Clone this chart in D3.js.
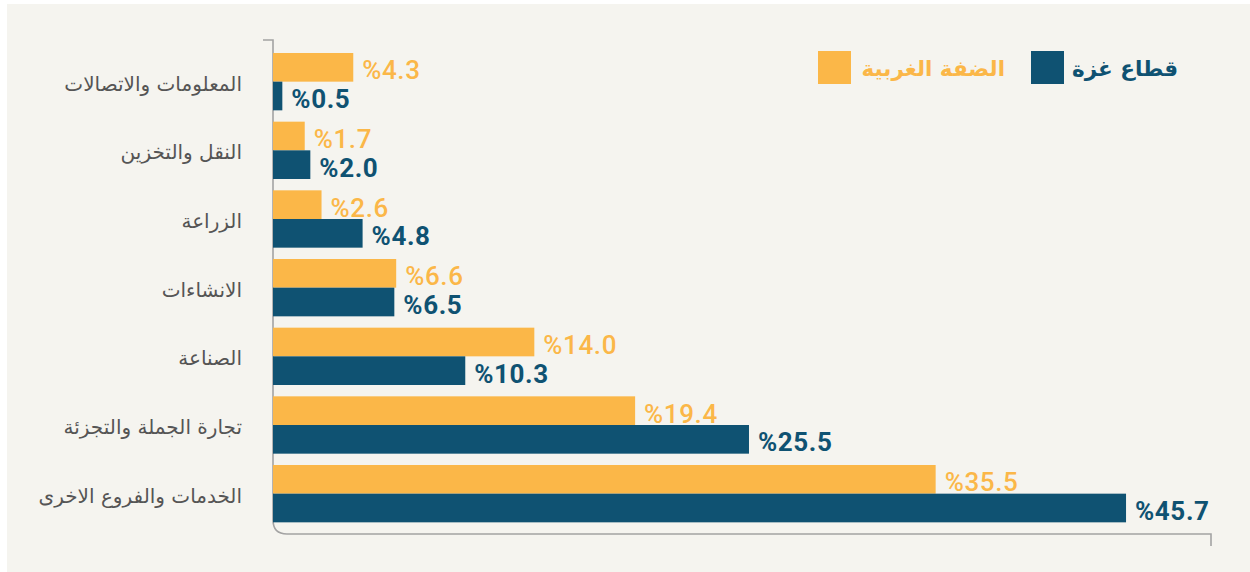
<!DOCTYPE html>
<html>
<head>
<meta charset="utf-8">
<script src="https://cdn.jsdelivr.net/npm/d3@7"></script>
<style>
  html, body { margin: 0; padding: 0; background: #ffffff; }
  svg { display: block; }
</style>
</head>
<body>
<svg id="chart" width="1250" height="572"></svg>
<script>
const categories = ["المعلومات والاتصالات", "النقل والتخزين", "الزراعة", "الانشاءات", "الصناعة", "تجارة الجملة والتجزئة", "الخدمات والفروع الاخرى"];
const westBank = [4.3, 1.7, 2.6, 6.6, 14.0, 19.4, 35.5];
const gaza = [0.5, 2.0, 4.8, 6.5, 10.3, 25.5, 45.7];
const seriesNames = ["الضفة الغربية", "قطاع غزة"];

const YELLOW = "#fbb748";
const BLUE = "#0f5272";
const AXIS = "#a3a3a3";

const svg = d3.select("#chart");
svg.append("rect").attr("x", 7).attr("y", 4).attr("width", 1243).attr("height", 568).attr("fill", "#f5f4ef");

const x = d3.scaleLinear().domain([0, 50]).range([273, 1206.3]);
const y0 = d3.scaleBand().domain(categories).range([47.33, 528.0]).paddingInner(0.165).paddingOuter(0.0825);
const y1 = d3.scaleBand().domain(["wb", "gz"]).range([0, y0.bandwidth()]);

// axis frame
const r = 14;
svg.append("path")
  .attr("d", `M263,40 H273 V${534 - r} Q273,534 ${273 + r},534 H1211 V546`)
  .attr("fill", "none").attr("stroke", AXIS).attr("stroke-width", 1.6);

const rows = categories.map((c, i) => ({ c, wb: westBank[i], gz: gaza[i] }));

const g = svg.append("g");
const grp = g.selectAll("g.cat").data(rows).join("g").attr("class", "cat")
  .attr("transform", d => `translate(0,${y0(d.c)})`);

const series = [
  { key: "wb", color: YELLOW, weight: 500 },
  { key: "gz", color: BLUE, weight: 700 }
];

series.forEach(s => {
  grp.append("rect")
    .attr("x", x(0))
    .attr("y", y1(s.key))
    .attr("width", d => x(d[s.key]) - x(0))
    .attr("height", y1.bandwidth())
    .attr("fill", s.color);
  grp.append("text")
    .attr("x", d => x(d[s.key]) + 9)
    .attr("y", y1(s.key) + y1.bandwidth() / 2 + 12)
    .attr("fill", s.color)
    .attr("font-family", "Roboto, 'DejaVu Sans', sans-serif")
    .attr("font-weight", s.weight)
    .attr("font-size", 26)
    .attr("letter-spacing", 0.6)
    .attr("direction", "ltr")
    .text(d => "%" + d[s.key].toFixed(1));
});

// category labels
grp.append("text")
  .attr("x", 242)
  .attr("y", y0.bandwidth() / 2 + 9)
  .attr("text-anchor", "end")
  .attr("fill", "#555555")
  .attr("font-family", "'DejaVu Sans', sans-serif")
  .attr("font-size", 20)
  .text(d => d.c);

// legend
const legend = [
  { name: seriesNames[1], color: BLUE, sx: 1031, tx: 1178 },
  { name: seriesNames[0], color: YELLOW, sx: 818, tx: 1005 }
];
const lg = svg.append("g").selectAll("g").data(legend).join("g");
lg.append("rect").attr("x", d => d.sx).attr("y", 51).attr("width", 33).attr("height", 33).attr("fill", d => d.color);
lg.append("text")
  .attr("x", d => d.tx).attr("y", 76)
  .attr("text-anchor", "end")
  .attr("fill", d => d.color)
  .attr("font-family", "'DejaVu Sans', sans-serif")
  .attr("font-weight", 700)
  .attr("font-size", 21.5)
  .text(d => d.name);
</script>
</body>
</html>
